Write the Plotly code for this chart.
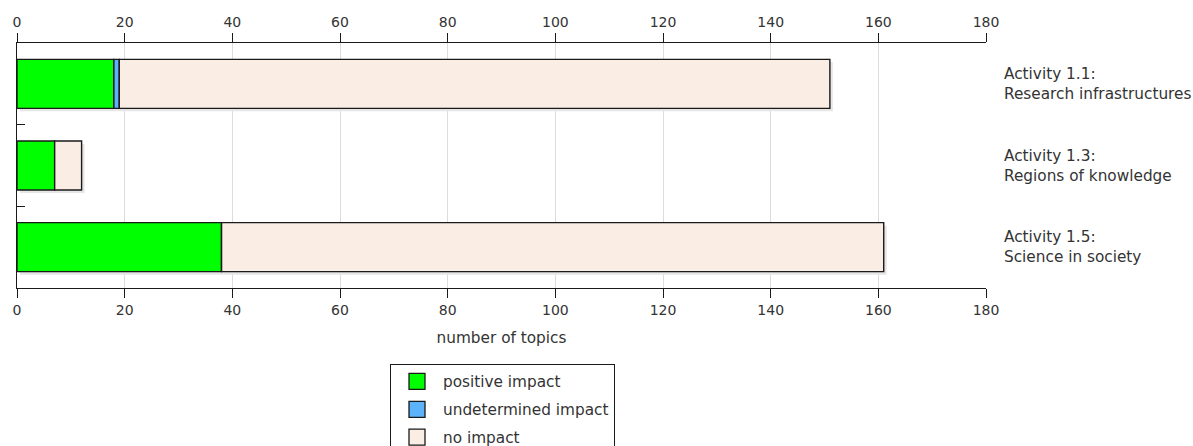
import plotly.graph_objects as go

categories = ["Activity 1.1:<br>Research infrastructures",
              "Activity 1.3:<br>Regions of knowledge",
              "Activity 1.5:<br>Science in society"]
cat_keys = ["A1.1", "A1.3", "A1.5"]
series_names = ["positive impact", "undetermined impact", "no impact"]
positive = [18, 7, 38]
undetermined = [1, 0, 0]
no_impact = [132, 5, 123]
colors = ["#00FF00", "#5CB3FA", "#FAEEE4"]
x_ticks = [0, 20, 40, 60, 80, 100, 120, 140, 160, 180]

FONT = "DejaVu Sans"
TXT = "#333333"
TXT_SIZE = 15.3
TICK_SIZE = 14

series = [positive, undetermined, no_impact]
totals = [sum(v) for v in zip(*series)]
bases = []
run = [0] * len(cat_keys)
for vals in series:
    bases.append(list(run))
    run = [r + v for r, v in zip(run, vals)]

# plot geometry (page body margin removed via post_script)
W, H = 1193, 446
L, R, T, B = 17, 207, 43, 158
plot_w = W - L - R
plot_h = H - T - B
XMAX = 180
shadow_px = 3
sx = shadow_px * XMAX / plot_w
sy = shadow_px * len(cat_keys) / plot_h
BAR_W = 0.6

fig = go.Figure()
# soft drop shadow behind each bar
fig.add_trace(go.Bar(
    y=cat_keys, x=totals, base=[sx] * len(cat_keys), orientation="h",
    marker=dict(color="#e6e6e6", line=dict(width=0)),
    width=BAR_W, offset=-BAR_W / 2 + sy, showlegend=False, hoverinfo="skip"))

for name, vals, bs, col in zip(series_names, series, bases, colors):
    fig.add_trace(go.Bar(
        y=cat_keys, x=vals, base=bs, orientation="h", name=name,
        marker=dict(color=col, line=dict(color="#1a1a1a", width=1.4)),
        width=BAR_W, showlegend=False))

# legend entries
for i, (name, col) in enumerate(zip(series_names, colors)):
    fig.add_trace(go.Scatter(
        x=[None], y=[None], mode="markers", name=name, legendgroup=f"g{i}",
        marker=dict(symbol="square", size=16, color=col,
                    line=dict(color="#1a1a1a", width=1.3))))

# top axis carrier
fig.add_trace(go.Scatter(x=[None], y=[None], xaxis="x2", showlegend=False,
                         hoverinfo="skip"))

for key, lab in zip(cat_keys, categories):
    fig.add_annotation(text=lab, xref="paper", x=1, xshift=16, xanchor="left",
                       yref="y", y=key, showarrow=False, align="left",
                       font=dict(family=FONT, size=TXT_SIZE, color=TXT))

axis_common = dict(range=[0, XMAX], tickmode="array", tickvals=x_ticks,
                   showline=True, linecolor="#1a1a1a", linewidth=1,
                   ticks="outside", ticklen=9, tickcolor="#1a1a1a",
                   tickfont=dict(family=FONT, size=TICK_SIZE, color=TXT),
                   zeroline=False, automargin=False)

fig.update_layout(
    width=W, height=H,
    margin=dict(l=L, r=R, t=T, b=B, autoexpand=False),
    paper_bgcolor="white", plot_bgcolor="white",
    barmode="overlay",
    showlegend=True,
    legend=dict(x=(390 - L) / plot_w, xanchor="left", y=-0.31, yanchor="top",
                bordercolor="#1a1a1a", borderwidth=1, tracegroupgap=5,
                itemwidth=42,
                font=dict(family=FONT, size=TXT_SIZE, color=TXT),
                itemsizing="trace"),
    xaxis=dict(**axis_common, showgrid=True, gridcolor="#dcdcdc",
               title=dict(text="number of topics",
                          font=dict(family=FONT, size=TXT_SIZE, color=TXT), standoff=15)),
    xaxis2=dict(**axis_common, overlaying="x", side="top", showgrid=False, anchor="y"),
    yaxis=dict(categoryorder="array", categoryarray=cat_keys, autorange="reversed",
               showticklabels=False, showline=True, linecolor="#1a1a1a",
               ticks="inside", ticklen=8, tickcolor="#1a1a1a", tickson="boundaries",
               showgrid=False, zeroline=False, automargin=False),
)

fig.write_html("out.html",
               config={"displayModeBar": False},
               post_script="document.body.style.margin='0';"
                           "document.body.style.overflow='hidden';")
